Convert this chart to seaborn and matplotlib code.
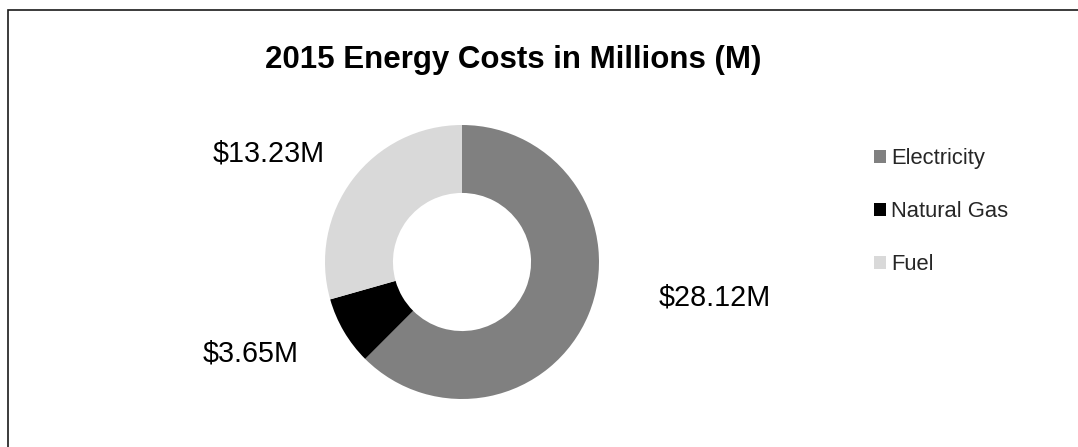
import matplotlib
matplotlib.use("Agg")
import matplotlib.pyplot as plt
from matplotlib.patches import Patch, Rectangle
import seaborn as sns

# ---- data ----
categories = ["Electricity", "Natural Gas", "Fuel"]
costs_m = [28.12, 3.65, 13.23]
colors = ["#808080", "#000000", "#D9D9D9"]
title = "2015 Energy Costs in Millions (M)"

# ---- layout (pixels) ----
W, H = 1078, 447
cx, cy, r = 462, 262, 137
label_pos = [(659, 305), (203, 362), (213, 162)]  # left, baseline of each label

sns.set_theme(style="white")
plt.rcParams["font.family"] = ["Liberation Sans", "DejaVu Sans"]

fig = plt.figure(figsize=(W / 100, H / 100), dpi=100)
fig.patch.set_facecolor("white")

ax = fig.add_axes([(cx - r) / W, (H - cy - r) / H, 2 * r / W, 2 * r / H])
ax.pie(costs_m, colors=colors, startangle=90, counterclock=False, radius=1,
       wedgeprops=dict(width=0.496, linewidth=0))
ax.set_xlim(-1, 1)
ax.set_ylim(-1, 1)
ax.set_aspect("equal")
ax.axis("off")

for v, (px, py) in zip(costs_m, label_pos):
    fig.text(px / W, 1 - py / H, f"${v:.2f}M", ha="left", va="baseline",
             fontsize=20.7, color="black")

fig.text(513 / W, 1 - 68 / H, title, ha="center", va="baseline",
         fontsize=22.5, fontweight="bold", color="black")

handles = [Patch(facecolor=c, edgecolor="none") for c in colors]
fig.legend(handles, categories, loc="upper left",
           bbox_to_anchor=(874 / W, 1 - 148 / H), frameon=False,
           fontsize=15.8, handlelength=0.55, handleheight=0.55,
           handletextpad=0.22, labelspacing=1.46, borderpad=0, borderaxespad=0)

# outer frame (only top and left edges visible in the crop)
fig.patches.append(Rectangle((8 / W, -0.2), 1.5, 1.2 - 10 / H,
                             transform=fig.transFigure, fill=False,
                             edgecolor="#1a1a1a", linewidth=1.2))

fig.savefig("out.png", dpi=100, facecolor="white")
